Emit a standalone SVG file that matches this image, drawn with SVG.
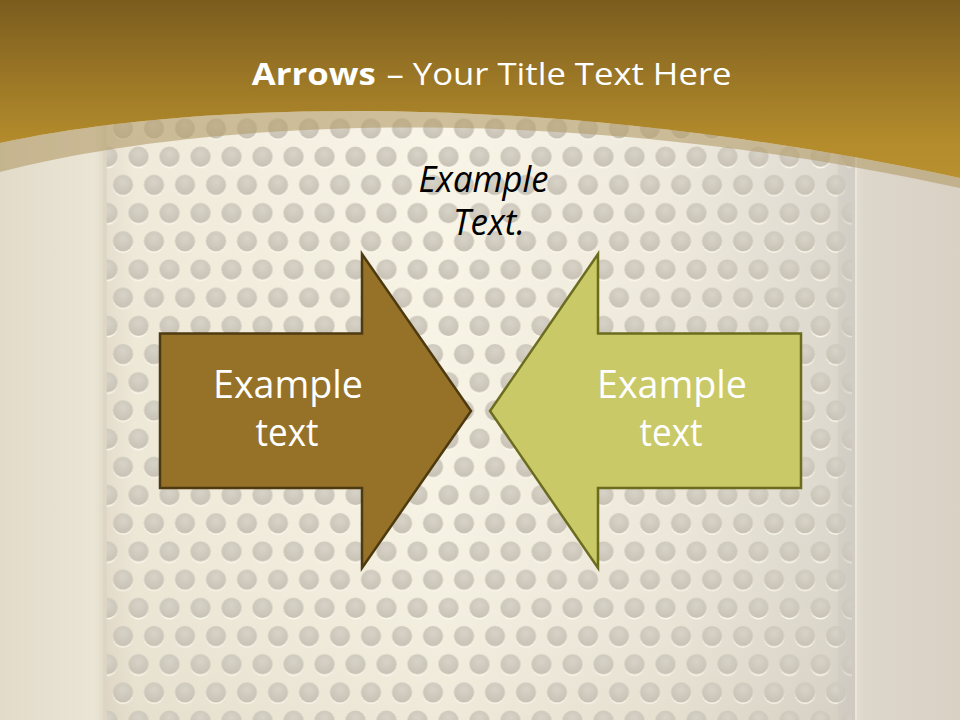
<svg xmlns="http://www.w3.org/2000/svg" width="960" height="720" viewBox="0 0 960 720">
  <defs>
    <linearGradient id="panelGrad" x1="105" y1="0" x2="855" y2="0" gradientUnits="userSpaceOnUse">
      <stop offset="0" stop-color="#e4dccb"/>
      <stop offset="0.04" stop-color="#eee8d7"/>
      <stop offset="0.45" stop-color="#f8f4e5"/>
      <stop offset="0.75" stop-color="#ede8da"/>
      <stop offset="0.97" stop-color="#ddd8cd"/>
      <stop offset="1" stop-color="#d3cec5"/>
    </linearGradient>
    <linearGradient id="panelShade" x1="0" y1="0" x2="0" y2="720" gradientUnits="userSpaceOnUse">
      <stop offset="0" stop-color="#ffffff" stop-opacity="0.15"/>
      <stop offset="0.5" stop-color="#ffffff" stop-opacity="0"/>
      <stop offset="1" stop-color="#b8ae98" stop-opacity="0.15"/>
    </linearGradient>
    <linearGradient id="leftGrad" x1="0" y1="0" x2="105" y2="0" gradientUnits="userSpaceOnUse">
      <stop offset="0" stop-color="#e2dbca"/>
      <stop offset="0.9" stop-color="#ebe5d5"/>
      <stop offset="1" stop-color="#e0d9c7"/>
    </linearGradient>
    <linearGradient id="rightGrad" x1="855" y1="0" x2="960" y2="0" gradientUnits="userSpaceOnUse">
      <stop offset="0" stop-color="#e3ddd2"/>
      <stop offset="0.1" stop-color="#ddd6ca"/>
      <stop offset="1" stop-color="#d9d1c4"/>
    </linearGradient>
    <linearGradient id="topGrad" x1="0" y1="0" x2="0" y2="180" gradientUnits="userSpaceOnUse">
      <stop offset="0" stop-color="#7a5c1e"/>
      <stop offset="0.45" stop-color="#9c7826"/>
      <stop offset="0.8" stop-color="#b48c2c"/>
      <stop offset="1" stop-color="#b8902e"/>
    </linearGradient>
    <radialGradient id="dotGrad" cx="0.5" cy="0.35" r="0.6">
      <stop offset="0" stop-color="#d8d3c8"/>
      <stop offset="1" stop-color="#c9c3b6"/>
    </radialGradient>
    <pattern id="dots" patternUnits="userSpaceOnUse" x="107.5" y="114.4" width="31" height="56.4">
      <circle cx="15.5" cy="15.6" r="10.1" fill="#fbf8ec"/>
      <circle cx="15.5" cy="14.1" r="10.1" fill="url(#dotGrad)"/>
      <circle cx="0" cy="43.8" r="10.1" fill="#fbf8ec"/>
      <circle cx="0" cy="42.3" r="10.1" fill="url(#dotGrad)"/>
      <circle cx="31" cy="43.8" r="10.1" fill="#fbf8ec"/>
      <circle cx="31" cy="42.3" r="10.1" fill="url(#dotGrad)"/>
    </pattern>
    <clipPath id="panelClip">
      <rect x="106" y="0" width="746" height="720"/>
    </clipPath>
  </defs>
  <style>
    .ttl { font-family: "Open Sans", "Liberation Sans", sans-serif; fill: #ffffff; font-size: 31px; }
    .lbl { font-family: "Open Sans", "Liberation Sans", sans-serif; fill: #ffffff; font-size: 39px; text-anchor: middle; }
    .note { font-family: "Open Sans", "Liberation Sans", sans-serif; fill: #000000; font-size: 36px; font-style: italic; text-anchor: middle; }
  </style>

  <!-- background -->
  <rect x="0" y="0" width="960" height="720" fill="#e6dfcf"/>
  <rect x="0" y="0" width="106" height="720" fill="url(#leftGrad)"/>
  <rect x="105" y="0" width="750" height="720" fill="url(#panelGrad)"/>
  <rect x="105" y="0" width="750" height="720" fill="url(#panelShade)"/>
  <rect x="105" y="0" width="750" height="720" fill="url(#dots)" clip-path="url(#panelClip)"/>
  <rect x="103" y="0" width="4" height="720" fill="#ddd5c3" opacity="0.8"/>
  <rect x="838" y="0" width="17" height="720" fill="#cfcac2" opacity="0.45"/>
  <rect x="855" y="0" width="105" height="720" fill="url(#rightGrad)"/>
  <rect x="855" y="0" width="2" height="720" fill="#ebe6dc"/>

  <!-- top band -->
  <path d="M0,143 C200,100 550,90 960,178 L960,188 C560,100 200,120 0,172 Z" fill="#b39b68" opacity="0.6"/>
  <path d="M0,0 H960 V178 C550,90 200,100 0,143 Z" fill="url(#topGrad)"/>

  <g id="title">
    <text class="ttl" x="251.7" y="85" font-weight="bold" textLength="124" lengthAdjust="spacingAndGlyphs">Arrows</text>
    <text class="ttl" x="386.5" y="85" textLength="345" lengthAdjust="spacingAndGlyphs">– Your Title Text Here</text>
  </g>

  <g id="connectors"></g>

  <g id="note">
    <text class="note" x="483.5" y="191.7" textLength="130" lengthAdjust="spacingAndGlyphs">Example</text>
    <text class="note" x="489" y="235" textLength="72" lengthAdjust="spacingAndGlyphs">Text.</text>
  </g>

  <g id="arrow-left">
    <path d="M160,333.5 H362 V254 L471,411 L362,568 V488 H160 Z" fill="#957228" stroke="#4d3a10" stroke-width="2.5" stroke-linejoin="miter"/>
    <text class="lbl" x="288" y="398.3" textLength="150" lengthAdjust="spacingAndGlyphs">Example</text>
    <text class="lbl" x="287" y="446" textLength="63" lengthAdjust="spacingAndGlyphs">text</text>
  </g>

  <g id="arrow-right">
    <path d="M801,333.5 H598 V254 L490,411 L598,568 V488 H801 Z" fill="#c9c967" stroke="#6b6c1e" stroke-width="2.5" stroke-linejoin="miter"/>
    <text class="lbl" x="672" y="398.3" textLength="150" lengthAdjust="spacingAndGlyphs">Example</text>
    <text class="lbl" x="671" y="446" textLength="63" lengthAdjust="spacingAndGlyphs">text</text>
  </g>
</svg>
